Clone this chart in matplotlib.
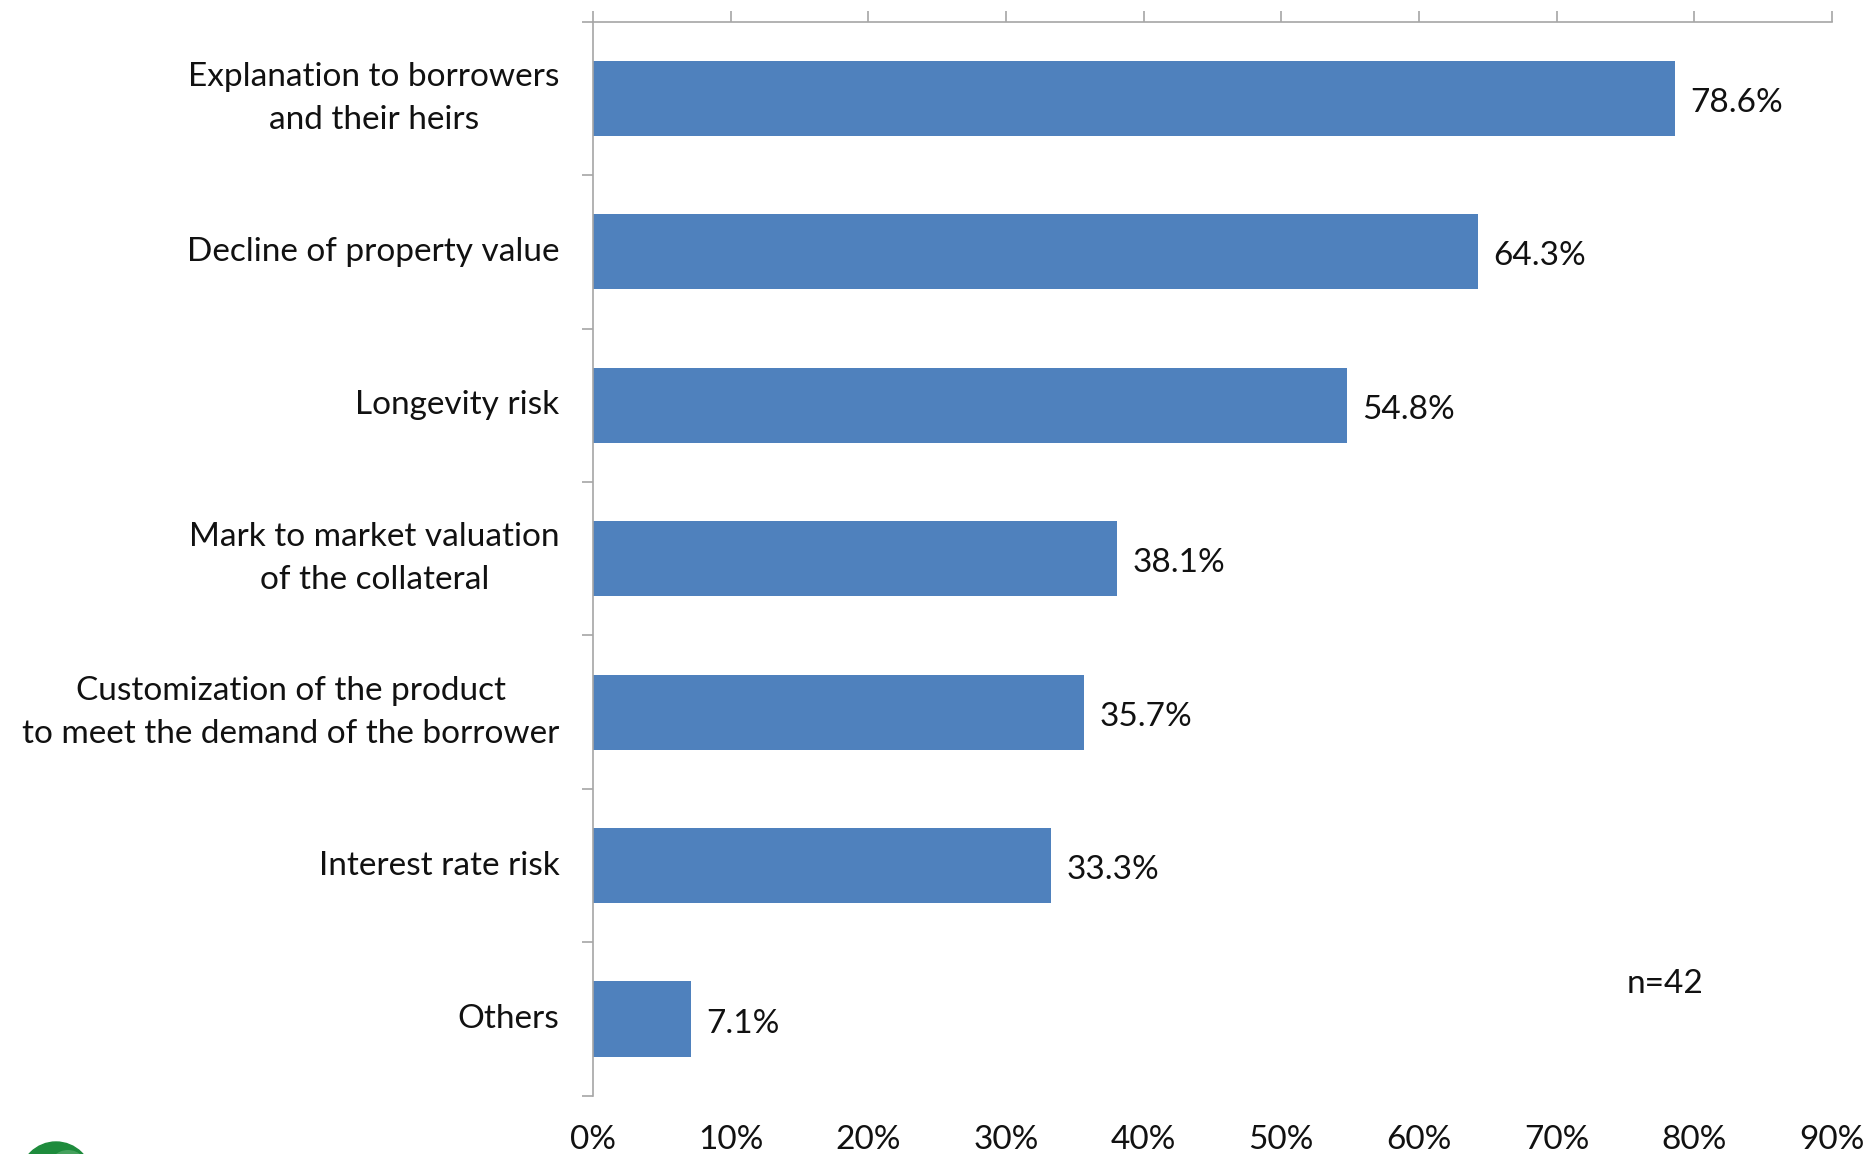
import matplotlib
matplotlib.use("Agg")
from matplotlib import pyplot as plt
from matplotlib.patches import Ellipse

categories = [
    "Explanation to borrowers\nand their heirs",
    "Decline of property value",
    "Longevity risk",
    "Mark to market valuation\nof the collateral",
    "Customization of the product\nto meet the demand of the borrower",
    "Interest rate risk",
    "Others",
]
values = [78.6, 64.3, 54.8, 38.1, 35.7, 33.3, 7.1]
x_ticks = [0, 10, 20, 30, 40, 50, 60, 70, 80, 90]
sample_note = "n=42"

BAR_COLOR = "#4F81BD"
AXIS_COLOR = "#A6A6A6"
TEXT_COLOR = "#111111"
FS = 24
W, H = 1871, 1154

plt.rcParams["font.family"] = ["Lato", "DejaVu Sans"]

fig = plt.figure(figsize=(W / 100, H / 100), dpi=100)
ax = fig.add_axes([0.3169, 0.0505, 0.9791 - 0.3169, 0.9812 - 0.0505])

y_pos = list(range(len(categories)))
ax.barh(y_pos, values, height=0.49, color=BAR_COLOR, zorder=2)
for y, v in zip(y_pos, values):
    ax.text(v + 1.1, y + 0.03, f"{v:.1f}%", va="center", ha="left", fontsize=FS, color=TEXT_COLOR)

ax.set_xlim(0, 90)
ax.set_ylim(len(categories) - 0.5, -0.5)

# category labels sit between boundary ticks on the left axis
ax.set_yticks(y_pos)
ax.set_yticklabels(categories, fontsize=FS, color=TEXT_COLOR, va="center")
for lbl in ax.get_yticklabels():
    lbl.set_multialignment("center")
    lbl.set_linespacing(1.55)
ax.set_yticks([i - 0.5 for i in range(len(categories) + 1)], minor=True)
ax.tick_params(axis="y", which="major", length=0, pad=24)
ax.tick_params(axis="y", which="minor", length=8, width=1.2, color=AXIS_COLOR)

# value axis drawn along the top, labels kept at the bottom
ax.set_xticks(x_ticks)
ax.set_xticklabels([f"{t}%" for t in x_ticks], fontsize=FS, color=TEXT_COLOR)
ax.tick_params(axis="x", top=True, bottom=False, labeltop=False, labelbottom=True,
               direction="out", length=8, width=1.2, color=AXIS_COLOR, pad=13)

for side in ["bottom", "right"]:
    ax.spines[side].set_visible(False)
for side in ["top", "left"]:
    ax.spines[side].set_color(AXIS_COLOR)
    ax.spines[side].set_linewidth(1.2)

ax.text(77.9, 5.77, sample_note, ha="center", va="center", fontsize=FS, color=TEXT_COLOR)

# green logo ball peeking in at the lower left corner
fig.patches.append(Ellipse((56 / W, 1 - 1178 / H), 72 / W, 72 / H, transform=fig.transFigure,
                           color="#1E8B3C", zorder=0))
fig.patches.append(Ellipse((68 / W, 1 - 1170 / H), 40 / W, 40 / H, transform=fig.transFigure,
                           color="#8FCB9B", alpha=0.35, lw=0, zorder=1))

fig.savefig("out.png", dpi=100)
